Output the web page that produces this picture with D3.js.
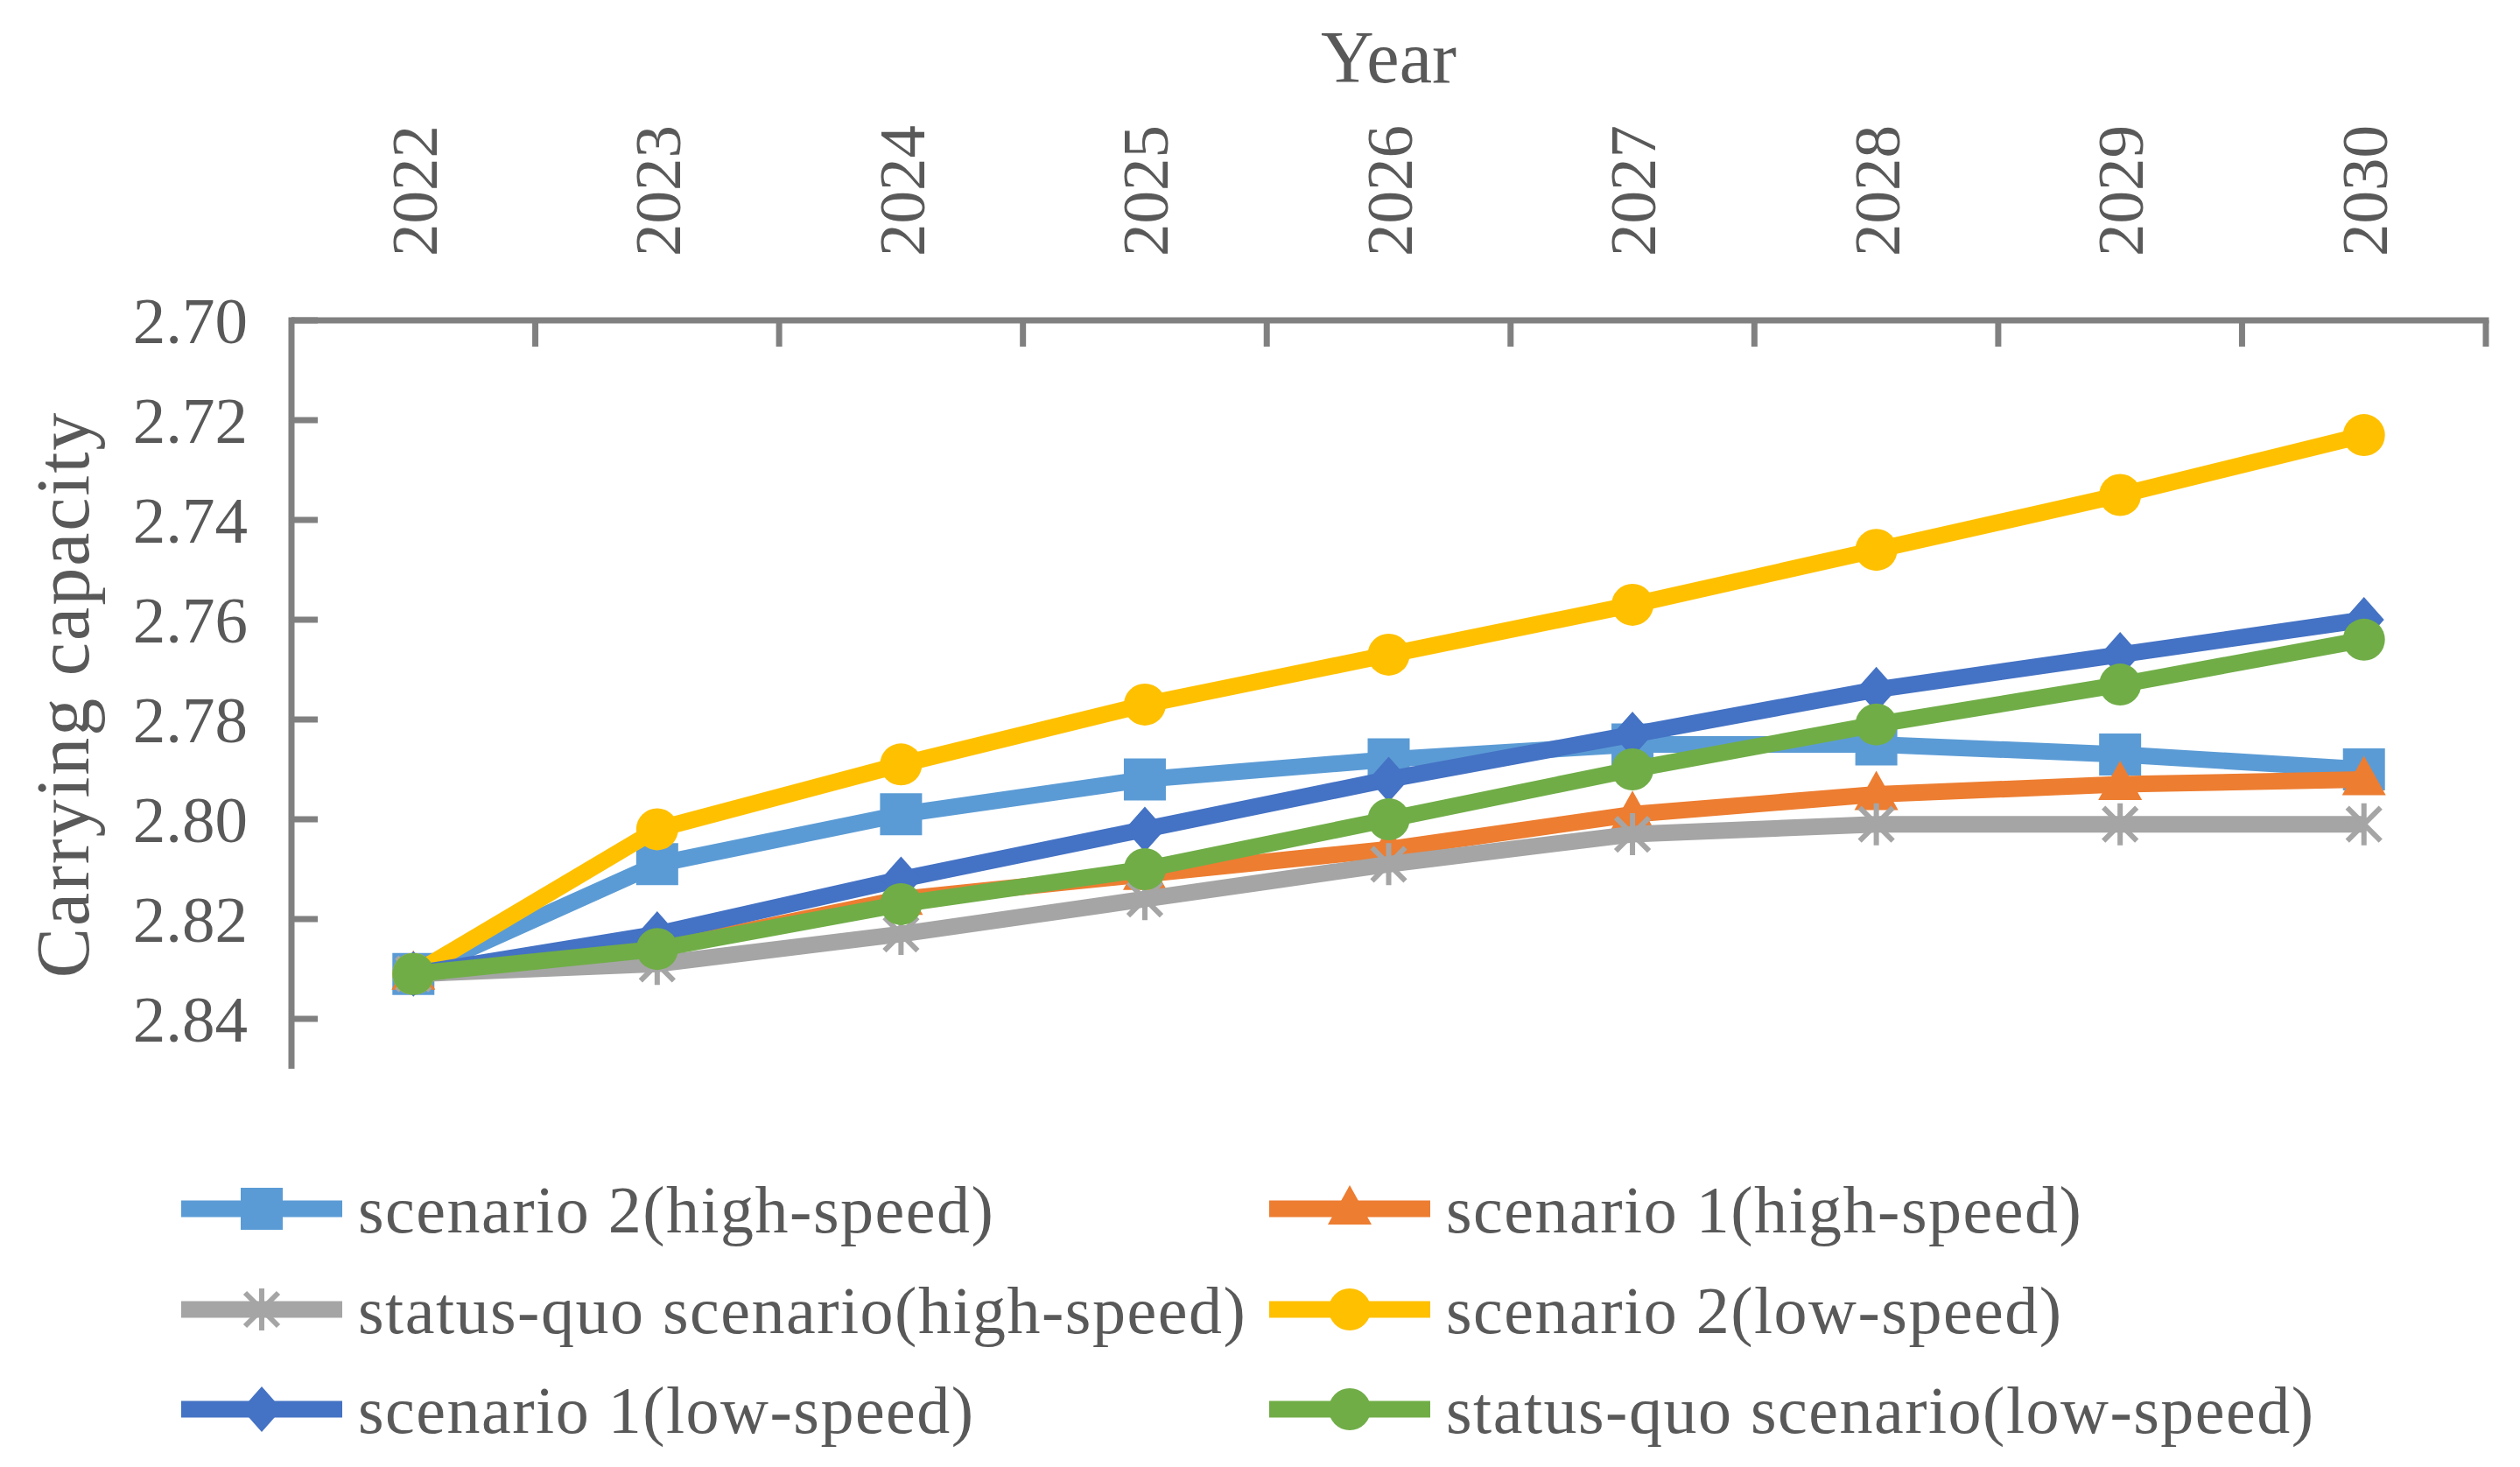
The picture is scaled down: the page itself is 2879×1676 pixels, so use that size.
<!DOCTYPE html>
<html lang="en">
<head>
  <meta charset="UTF-8">
  <title>Carrying capacity</title>
  <script src="https://d3js.org/d3.v7.min.js"></script>
  <style>
    body {
      margin: 0;
      padding: 0;
      background-color: #ffffff;
    }

    svg text {
      font-family: "Liberation Serif", "Times New Roman", serif;
      fill: #595959;
    }

    .axis-line {
      stroke: #808080;
      stroke-width: 7px;
      fill: none;
    }

    .series-line {
      fill: none;
      stroke-width: 19px;
      stroke-linejoin: round;
    }
  </style>
</head>
<body>
  <svg id="chart"></svg>

  <script>
    const years = ["2022", "2023", "2024", "2025", "2026", "2027", "2028", "2029", "2030"];
    const yTicks = [2.70, 2.72, 2.74, 2.76, 2.78, 2.80, 2.82, 2.84];

    const scenario2High = [2.831, 2.809, 2.799, 2.792, 2.788, 2.785, 2.785, 2.787, 2.790];
    const scenario1High = [2.831, 2.826, 2.816, 2.811, 2.806, 2.799, 2.795, 2.793, 2.792];
    const statusQuoHigh = [2.831, 2.829, 2.823, 2.816, 2.809, 2.803, 2.801, 2.801, 2.801];
    const scenario2Low  = [2.831, 2.802, 2.789, 2.777, 2.767, 2.757, 2.746, 2.735, 2.723];
    const scenario1Low  = [2.831, 2.823, 2.812, 2.802, 2.792, 2.783, 2.774, 2.767, 2.760];
    const statusQuoLow  = [2.831, 2.826, 2.817, 2.810, 2.800, 2.790, 2.781, 2.773, 2.764];

    const seriesNames = [
      "scenario 2(high-speed)", "scenario 1(high-speed)", "status-quo scenario(high-speed)",
      "scenario 2(low-speed)", "scenario 1(low-speed)", "status-quo scenario(low-speed)"
    ];
    const seriesValues = [scenario2High, scenario1High, statusQuoHigh, scenario2Low, scenario1Low, statusQuoLow];
    const seriesColors = ["#5b9bd5", "#ed7d31", "#a5a5a5", "#ffc000", "#4472c4", "#70ad47"];
    const seriesMarkers = ["square", "triangle", "star", "circle", "diamond", "circle"];

    const W = 2879, H = 1676;
    const plot = { left: 333, right: 2840, top: 366, bottom: 1221 };

    const svg = d3.select("#chart")
      .attr("width", W)
      .attr("height", H)
      .style("display", "block");

    svg.append("rect").attr("width", W).attr("height", H).attr("fill", "#fff");

    const x = d3.scaleBand().domain(years).range([plot.left, plot.right]);
    // reversed value axis: small numbers at the top
    const y = d3.scaleLinear().domain([2.70, 2.85]).range([plot.top, plot.bottom]);

    // axes
    svg.append("line").attr("class", "axis-line")
      .attr("x1", plot.left).attr("x2", plot.left)
      .attr("y1", plot.top - 3.5).attr("y2", plot.bottom);
    svg.append("line").attr("class", "axis-line")
      .attr("x1", plot.left).attr("x2", plot.right + 3.5)
      .attr("y1", plot.top).attr("y2", plot.top);

    // y ticks (inside)
    svg.selectAll(".ytick")
      .data(yTicks)
      .enter().append("line")
      .attr("class", "axis-line")
      .attr("x1", plot.left).attr("x2", plot.left + 30)
      .attr("y1", d => y(d)).attr("y2", d => y(d));

    svg.selectAll(".ylabel")
      .data(yTicks)
      .enter().append("text")
      .attr("x", 283)
      .attr("y", d => y(d))
      .attr("dy", "0.35em")
      .attr("text-anchor", "end")
      .style("font-size", "75px")
      .text(d => d.toFixed(2));

    // x ticks between categories (inside, hanging from the top axis)
    const xEdges = years.map(d => x(d)).concat([x(years[years.length - 1]) + x.bandwidth()]);
    svg.selectAll(".xtick")
      .data(xEdges.slice(1))
      .enter().append("line")
      .attr("class", "axis-line")
      .attr("x1", d => d).attr("x2", d => d)
      .attr("y1", plot.top).attr("y2", plot.top + 30);

    svg.selectAll(".xlabel")
      .data(years)
      .enter().append("text")
      .attr("transform", d => `translate(${x(d) + x.bandwidth() / 2},293) rotate(-90)`)
      .attr("dy", "0.35em")
      .attr("text-anchor", "start")
      .style("font-size", "75px")
      .text(d => d);

    // axis titles
    svg.append("text")
      .attr("x", (plot.left + plot.right) / 2).attr("y", 94)
      .attr("text-anchor", "middle")
      .style("font-size", "84px")
      .text("Year");

    svg.append("text")
      .attr("transform", `translate(101,${(plot.top + plot.bottom) / 2}) rotate(-90)`)
      .attr("text-anchor", "middle")
      .style("font-size", "86px")
      .style("letter-spacing", "2px")
      .text("Carrying capacity");

    // marker shapes
    function markerPath(type) {
      if (type === "square") return "M-24,-24H24V24H-24Z";
      if (type === "triangle") return "M0,-27L25,18H-25Z";
      if (type === "diamond") return "M0,-26L23,0L0,26L-23,0Z";
      if (type === "circle") return d3.symbol().type(d3.symbolCircle).size(Math.PI * 24 * 24)();
      // star: vertical bar plus an X
      return "M0,-24V24M-19,-19L19,19M19,-19L-19,19";
    }

    function drawMarker(g, type, color) {
      const p = g.append("path").attr("d", markerPath(type));
      if (type === "star") {
        p.attr("fill", "none").attr("stroke", color).attr("stroke-width", 6);
      } else {
        p.attr("fill", color);
      }
    }

    const line = d3.line()
      .x((d, i) => x(years[i]) + x.bandwidth() / 2)
      .y(d => y(d));

    seriesValues.forEach((vals, si) => {
      const g = svg.append("g");
      g.append("path")
        .attr("class", "series-line")
        .attr("stroke", seriesColors[si])
        .attr("d", line(vals));

      vals.forEach((v, i) => {
        const m = g.append("g")
          .attr("transform", `translate(${x(years[i]) + x.bandwidth() / 2},${y(v)})`);
        drawMarker(m, seriesMarkers[si], seriesColors[si]);
      });
    });

    // legend
    const legendCols = [207, 1450];
    const legendRows = [1381, 1496, 1610];
    seriesNames.forEach((name, i) => {
      const lx = legendCols[i % 2];
      const ly = legendRows[Math.floor(i / 2)];
      const g = svg.append("g").attr("transform", `translate(${lx},${ly})`);
      g.append("line")
        .attr("x1", 0).attr("x2", 184)
        .attr("y1", 0).attr("y2", 0)
        .attr("stroke", seriesColors[i])
        .attr("stroke-width", 19);
      const m = g.append("g").attr("transform", "translate(92,0)");
      drawMarker(m, seriesMarkers[i], seriesColors[i]);
      g.append("text")
        .attr("x", 202)
        .attr("dy", "0.35em")
        .style("font-size", "76px")
        .style("letter-spacing", "1.5px")
        .text(name);
    });
  </script>
</body>
</html>
